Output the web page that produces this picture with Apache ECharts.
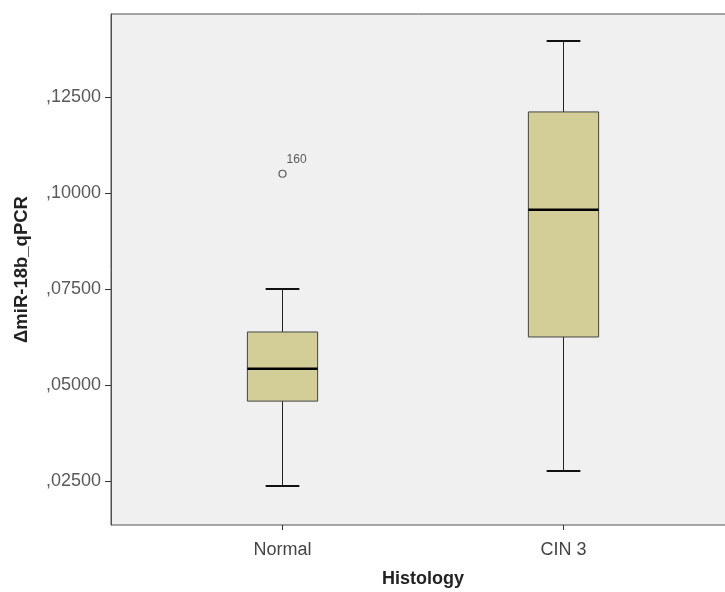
<!DOCTYPE html>
<html><head><meta charset="utf-8">
<script src="https://cdn.jsdelivr.net/npm/echarts@6/dist/echarts.min.js"></script>
<style>html,body{margin:0;padding:0;background:#fff}#c{width:725px;height:592px}</style>
</head><body><div id="c"></div>
<script>
const categories = ['Normal', 'CIN 3'];
// [lowerWhisker, Q1, median, Q3, upperWhisker]
const boxValues = [
  [0.0237, 0.0458, 0.0542, 0.0638, 0.0750],
  [0.0276, 0.0625, 0.0956, 0.1211, 0.1396]
];
const outliers = [[0, 0.1050, '160']];
const yTicks = [0.025, 0.05, 0.075, 0.10, 0.125];
const yMin = 0.01354, yMax = 0.1466;

const chart = echarts.init(document.getElementById('c'));
const fmt = v => v.toFixed(5).replace('0.', ',');
const font = 'Liberation Sans, Arial, sans-serif';

chart.setOption({
  animation: false,
  grid: [
    {left: 111, width: 660, top: 14, bottom: 67, outerBoundsMode: 'none', containLabel: false, show: true, backgroundColor: '#f0f0f0', borderColor: '#505050', borderWidth: 1},
    {left: 142, width: 562, top: 14, bottom: 67, outerBoundsMode: 'none', containLabel: false}
  ],
  xAxis: [
    {gridIndex: 0, type: 'value', min: 0, max: 1, show: false},
    {gridIndex: 1, type: 'category', data: categories,
     axisLine: {show: false},
     axisTick: {show: true, alignWithLabel: true, length: 5, lineStyle: {color: '#333'}},
     axisLabel: {color: '#444', fontSize: 18, fontFamily: font, margin: 16},
     name: 'Histology', nameLocation: 'middle', nameGap: 45,
     nameTextStyle: {fontWeight: 'bold', fontSize: 18, color: '#222', fontFamily: font}}
  ],
  yAxis: [
    {gridIndex: 0, type: 'value', min: yMin, max: yMax,
     axisLine: {show: true, lineStyle: {color: '#505050'}},
     axisTick: {show: true, length: 6, customValues: yTicks, lineStyle: {color: '#333'}},
     axisLabel: {color: '#5a5a5a', fontSize: 18, fontFamily: font, customValues: yTicks, formatter: fmt, margin: 10},
     splitLine: {show: false},
     name: 'ΔmiR-18b_qPCR', nameLocation: 'middle', nameGap: 80,
     nameTextStyle: {fontWeight: 'bold', fontSize: 18.5, color: '#222', fontFamily: font}},
    {gridIndex: 1, type: 'value', min: yMin, max: yMax, show: false}
  ],
  series: [
    {
      type: 'custom', xAxisIndex: 1, yAxisIndex: 1,
      data: boxValues.map((b, i) => [i].concat(b)),
      renderItem: function (params, api) {
        const x = api.value(0);
        const lo = api.coord([x, api.value(1)]);
        const q1 = api.coord([x, api.value(2)]);
        const md = api.coord([x, api.value(3)]);
        const q3 = api.coord([x, api.value(4)]);
        const hi = api.coord([x, api.value(5)]);
        const band = api.size([1, 0])[0];
        const bw = band * 0.25, cw = band * 0.12;
        const cx = lo[0];
        return {type: 'group', children: [
          {type: 'line', shape: {x1: cx, y1: hi[1], x2: cx, y2: q3[1]}, style: {stroke: '#222', lineWidth: 1}},
          {type: 'line', shape: {x1: cx, y1: q1[1], x2: cx, y2: lo[1]}, style: {stroke: '#222', lineWidth: 1}},
          {type: 'line', shape: {x1: cx - cw / 2, y1: hi[1], x2: cx + cw / 2, y2: hi[1]}, style: {stroke: '#111', lineWidth: 2}},
          {type: 'line', shape: {x1: cx - cw / 2, y1: lo[1], x2: cx + cw / 2, y2: lo[1]}, style: {stroke: '#111', lineWidth: 2}},
          {type: 'rect', shape: {x: cx - bw / 2, y: q3[1], width: bw, height: q1[1] - q3[1]}, style: {fill: '#d3ce98', stroke: '#444', lineWidth: 1}},
          {type: 'line', shape: {x1: cx - bw / 2, y1: md[1], x2: cx + bw / 2, y2: md[1]}, style: {stroke: '#000', lineWidth: 2.5}}
        ]};
      }
    },
    {
      type: 'scatter', xAxisIndex: 1, yAxisIndex: 1,
      data: outliers.map(o => ({value: [o[0], o[1]], name: o[2]})),
      symbol: 'circle', symbolSize: 7,
      itemStyle: {color: '#f0f0f0', borderColor: '#333', borderWidth: 1.2},
      label: {show: true, formatter: p => p.name, position: 'right', offset: [-5, -14], fontSize: 12, color: '#333', fontFamily: font}
    }
  ]
});
</script></body></html>
